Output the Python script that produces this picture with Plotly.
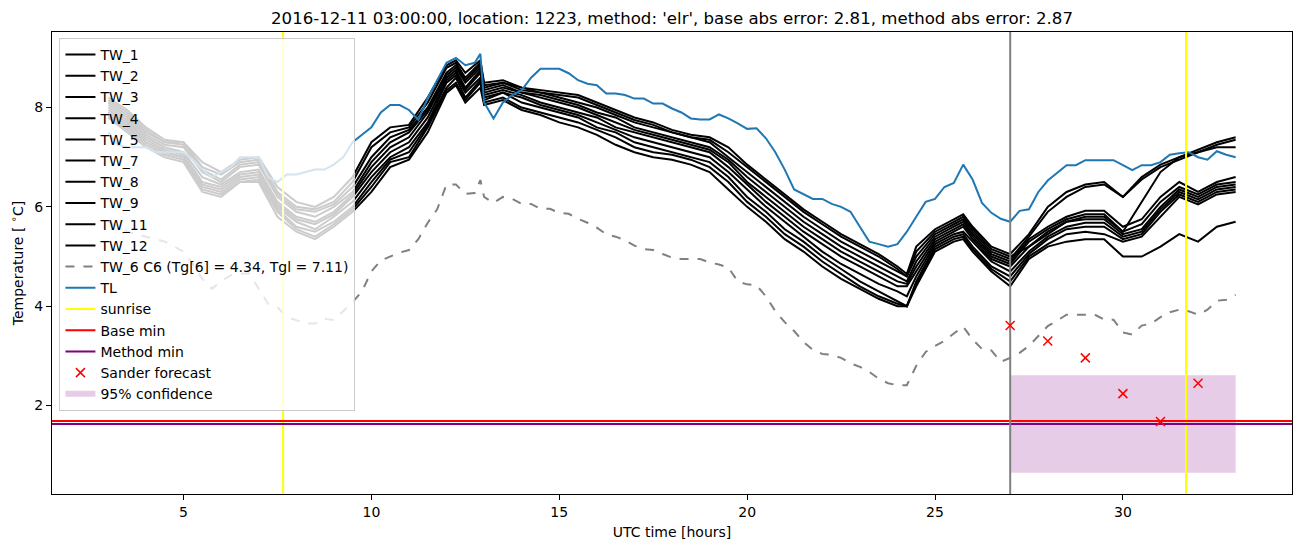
import plotly.graph_objects as go

# time axis (UTC hours since start of the day)
hours = [3.0, 3.25, 3.5, 3.75, 4.0, 4.25, 4.5, 4.75, 5.0, 5.25, 5.5, 5.75, 6.0, 6.25, 6.5, 6.75,
         7.0, 7.25, 7.5, 7.75, 8.0, 8.25, 8.5, 8.75, 9.0, 9.25, 9.5, 9.75, 10.0, 10.25, 10.5, 10.75,
         11.0, 11.25, 11.5, 11.75, 12.0, 12.25, 12.5, 12.75, 12.9, 13.0, 13.25, 13.5, 13.75, 14.0,
         14.25, 14.5, 14.75, 15.0, 15.25, 15.5, 15.75, 16.0, 16.25, 16.5, 16.75, 17.0, 17.25, 17.5,
         17.75, 18.0, 18.25, 18.5, 18.75, 19.0, 19.25, 19.5, 19.75, 20.0, 20.25, 20.5, 20.75, 21.0,
         21.25, 21.5, 21.75, 22.0, 22.25, 22.5, 22.75, 23.0, 23.25, 23.5, 23.75, 24.0, 24.25, 24.5,
         24.75, 25.0, 25.25, 25.5, 25.75, 26.0, 26.25, 26.5, 26.75, 27.0, 27.25, 27.5, 27.75, 28.0,
         28.25, 28.5, 28.75, 29.0, 29.25, 29.5, 29.75, 30.0, 30.25, 30.5, 30.75, 31.0, 31.25, 31.5,
         31.75, 32.0, 32.25, 32.5, 32.75, 33.0]

tl = [7.5, 7.25, 7.2, 7.2, 7.2, 7.1, 7.1, 7.1, 7.1, 6.95, 6.75, 6.6, 6.7, 6.8, 7.0, 7.0,
      7.0, 6.6, 6.5, 6.65, 6.65, 6.7, 6.75, 6.75, 6.85, 7.0, 7.3, 7.45, 7.6, 7.9, 8.05, 8.05,
      7.95, 7.75, 8.2, 8.55, 8.9, 9.0, 8.85, 8.9, 9.08, 8.1, 7.78, 8.1, 8.25, 8.35,
      8.6, 8.78, 8.78, 8.78, 8.69, 8.55, 8.48, 8.45, 8.28, 8.28, 8.25, 8.18, 8.18, 8.08,
      8.08, 7.98, 7.9, 7.78, 7.76, 7.76, 7.86, 7.78, 7.68, 7.57, 7.58, 7.38, 7.1, 6.75,
      6.35, 6.26, 6.16, 6.16, 6.06, 6.0, 5.9, 5.6, 5.3, 5.25, 5.2, 5.25, 5.5, 5.8,
      6.1, 6.16, 6.4, 6.48, 6.85, 6.55, 6.08, 5.88, 5.76, 5.7, 5.92, 5.95, 6.3, 6.53,
      6.68, 6.84, 6.84, 6.94, 6.94, 6.94, 6.94, 6.84, 6.74, 6.84, 6.84, 6.9, 7.05, 7.08,
      7.1, 7.0, 6.95, 7.12, 7.05, 7.0]

tw6 = [5.7, 5.6, 5.5, 5.45, 5.4, 5.35, 5.3, 5.2, 5.1, 4.85, 4.55, 4.35, 4.5, 4.62, 4.65, 4.66,
       4.35, 4.05, 3.98, 3.78, 3.72, 3.65, 3.65, 3.75, 3.72, 3.9, 4.08, 4.3, 4.7, 4.92, 5.0, 5.08,
       5.13, 5.35, 5.68, 5.95, 6.45, 6.45, 6.26, 6.28, 6.54, 6.2, 6.08, 6.2, 6.16, 6.06,
       6.06, 5.96, 5.96, 5.88, 5.86, 5.76, 5.68, 5.58, 5.45, 5.4, 5.33, 5.22, 5.15, 5.13,
       5.05, 4.98, 4.95, 4.95, 4.95, 4.88, 4.84, 4.78, 4.5, 4.44, 4.42, 4.2, 3.9, 3.68,
       3.5, 3.28, 3.12, 3.04, 3.02, 2.96, 2.85, 2.78, 2.68, 2.54, 2.45, 2.41, 2.41, 2.8,
       3.08, 3.2, 3.3, 3.45, 3.59, 3.33, 3.14, 3.11, 2.88, 2.96, 3.06, 3.2, 3.4, 3.6,
       3.71, 3.83, 3.83, 3.83, 3.83, 3.73, 3.73, 3.47, 3.43, 3.61, 3.65, 3.78, 3.88, 3.93,
       3.9, 3.83, 3.93, 4.11, 4.13, 4.23]

# well sensors, sampled every half hour (plus the peak times)
tw_hours = [3.0, 3.5, 4.0, 4.5, 5.0, 5.5, 6.0, 6.5, 7.0, 7.5, 8.0, 8.5, 9.0, 9.5, 10.0, 10.5,
            11.0, 11.5, 12.0, 12.25, 12.5, 12.9, 13.0, 13.5, 14.0, 14.5, 15.0, 15.5, 16.0, 16.5,
            17.0, 17.5, 18.0, 18.5, 19.0, 19.5, 20.0, 20.5, 21.0, 21.5, 22.0, 22.5, 23.0, 23.5,
            24.0, 24.25, 24.5, 25.0, 25.5, 25.75, 26.0, 26.5, 27.0, 27.5, 28.0, 28.5, 29.0, 29.5,
            30.0, 30.5, 31.0, 31.5, 32.0, 32.5, 33.0]

tw_1 = [8.2, 7.95, 7.6, 7.35, 7.3, 6.9, 6.7, 6.95, 7.0, 6.4, 6.1, 6.0, 6.2, 6.6, 7.3, 7.6,
        7.65, 8.2, 8.85, 8.95, 8.7, 8.95, 8.5, 8.55, 8.4, 8.35, 8.3, 8.25, 8.1, 7.95,
        7.8, 7.7, 7.55, 7.45, 7.4, 7.2, 6.85, 6.55, 6.25, 5.95, 5.7, 5.45, 5.25, 5.05,
        4.8, 4.65, 5.2, 5.55, 5.75, 5.85, 5.6, 5.2, 5.05, 5.45, 6.0, 6.3, 6.45, 6.5,
        6.2, 6.6, 6.85, 7.0, 7.15, 7.3, 7.4]
tw_2 = [8.15, 7.9, 7.55, 7.3, 7.3, 6.8, 6.65, 6.9, 6.95, 6.3, 6.0, 5.95, 6.1, 6.5, 7.2, 7.5,
        7.6, 8.1, 8.8, 8.9, 8.6, 8.9, 8.45, 8.5, 8.4, 8.3, 8.25, 8.2, 8.05, 7.9,
        7.75, 7.65, 7.5, 7.4, 7.35, 7.1, 6.8, 6.5, 6.2, 5.9, 5.65, 5.4, 5.2, 5.0,
        4.75, 4.6, 5.1, 5.5, 5.7, 5.8, 5.55, 5.15, 5.0, 5.2, 5.5, 5.7, 5.8, 5.8,
        5.5, 6.1, 6.7, 7.0, 7.1, 7.25, 7.35]
tw_3 = [8.1, 7.85, 7.5, 7.3, 7.25, 6.75, 6.55, 6.85, 6.9, 6.25, 5.95, 5.9, 6.05, 6.4, 7.0, 7.4,
        7.55, 8.0, 8.7, 8.85, 8.55, 8.85, 8.4, 8.5, 8.35, 8.3, 8.2, 8.1, 8.0, 7.85,
        7.7, 7.6, 7.5, 7.4, 7.3, 7.0, 6.7, 6.4, 6.1, 5.8, 5.55, 5.3, 5.1, 4.9,
        4.7, 4.6, 5.0, 5.45, 5.65, 5.75, 5.5, 5.1, 4.95, 5.4, 5.9, 6.2, 6.4, 6.45,
        6.2, 6.55, 6.8, 6.95, 7.1, 7.2, 7.2]
tw_4 = [8.05, 7.8, 7.45, 7.25, 7.2, 6.7, 6.5, 6.8, 6.85, 6.2, 5.9, 5.8, 6.0, 6.3, 6.9, 7.3,
        7.5, 7.95, 8.65, 8.8, 8.5, 8.8, 8.35, 8.45, 8.3, 8.25, 8.15, 8.05, 7.9, 7.8,
        7.6, 7.5, 7.4, 7.3, 7.2, 6.95, 6.6, 6.3, 6.0, 5.7, 5.45, 5.2, 5.0, 4.8,
        4.6, 4.5, 4.9, 5.4, 5.6, 5.7, 5.45, 5.05, 4.9, 5.35, 5.6, 5.8, 5.92, 5.92,
        5.6, 5.75, 6.2, 6.5, 6.3, 6.5, 6.6]
tw_5 = [8.0, 7.75, 7.4, 7.2, 7.1, 6.6, 6.45, 6.7, 6.75, 6.1, 5.8, 5.7, 5.9, 6.25, 6.8, 7.2,
        7.4, 7.9, 8.6, 8.75, 8.4, 8.75, 8.3, 8.4, 8.3, 8.2, 8.1, 8.0, 7.85, 7.7,
        7.55, 7.45, 7.35, 7.25, 7.15, 6.9, 6.5, 6.2, 5.9, 5.6, 5.35, 5.1, 4.9, 4.7,
        4.5, 4.45, 4.8, 5.35, 5.55, 5.65, 5.4, 5.0, 4.85, 5.3, 5.55, 5.75, 5.85, 5.85,
        5.5, 5.65, 6.1, 6.4, 6.25, 6.45, 6.5]
tw_7 = [7.95, 7.7, 7.35, 7.15, 7.05, 6.5, 6.4, 6.65, 6.7, 6.05, 5.75, 5.65, 5.85, 6.2, 6.7, 7.1,
        7.3, 7.8, 8.55, 8.7, 8.35, 8.7, 8.25, 8.35, 8.25, 8.1, 8.0, 7.9, 7.8, 7.6,
        7.5, 7.4, 7.3, 7.2, 7.1, 6.8, 6.45, 6.1, 5.8, 5.5, 5.25, 5.0, 4.8, 4.6,
        4.4, 4.4, 4.7, 5.3, 5.5, 5.6, 5.35, 4.95, 4.8, 5.2, 5.45, 5.7, 5.75, 5.75,
        5.45, 5.55, 6.0, 6.35, 6.2, 6.4, 6.45]
tw_8 = [7.9, 7.65, 7.3, 7.1, 7.0, 6.45, 6.35, 6.6, 6.65, 6.0, 5.7, 5.55, 5.8, 6.1, 6.6, 7.0,
        7.2, 7.7, 8.5, 8.65, 8.3, 8.6, 8.2, 8.3, 8.2, 8.05, 7.95, 7.85, 7.7, 7.55,
        7.4, 7.3, 7.2, 7.1, 7.0, 6.7, 6.35, 6.0, 5.7, 5.4, 5.1, 4.85, 4.65, 4.45,
        4.3, 4.2, 4.6, 5.25, 5.45, 5.5, 5.3, 4.9, 4.7, 5.1, 5.4, 5.6, 5.68, 5.68,
        5.4, 5.5, 5.95, 6.3, 6.15, 6.35, 6.4]
tw_9 = [7.85, 7.6, 7.3, 7.1, 7.0, 6.4, 6.3, 6.55, 6.6, 5.95, 5.6, 5.5, 5.7, 6.0, 6.5, 6.95,
        7.1, 7.65, 8.4, 8.6, 8.2, 8.55, 8.15, 8.3, 8.1, 8.0, 7.9, 7.8, 7.6, 7.5,
        7.3, 7.2, 7.1, 7.0, 6.9, 6.6, 6.2, 5.9, 5.55, 5.3, 5.0, 4.75, 4.5, 4.3,
        4.1, 4.0, 4.5, 5.2, 5.4, 5.45, 5.2, 4.8, 4.6, 5.05, 5.35, 5.55, 5.6, 5.6,
        5.35, 5.45, 5.9, 6.25, 6.1, 6.3, 6.35]
tw_11 = [7.8, 7.55, 7.25, 7.05, 6.95, 6.35, 6.25, 6.5, 6.55, 5.9, 5.55, 5.4, 5.65, 5.95, 6.4, 6.9,
         7.0, 7.6, 8.35, 8.5, 8.15, 8.5, 8.1, 8.2, 8.0, 7.9, 7.8, 7.7, 7.55, 7.4,
         7.2, 7.1, 7.05, 6.95, 6.8, 6.5, 6.1, 5.8, 5.45, 5.2, 4.9, 4.65, 4.4, 4.2,
         4.05, 4.0, 4.45, 5.15, 5.35, 5.4, 5.15, 4.75, 4.5, 5.0, 5.25, 5.45, 5.5, 5.45,
         5.3, 5.4, 5.8, 6.2, 6.05, 6.25, 6.3]
tw_12 = [7.8, 7.5, 7.2, 7.0, 6.9, 6.3, 6.2, 6.5, 6.5, 5.8, 5.5, 5.35, 5.6, 5.9, 6.3, 6.8,
         6.95, 7.5, 8.3, 8.45, 8.1, 8.4, 8.05, 8.15, 7.95, 7.85, 7.7, 7.6, 7.45, 7.25,
         7.1, 7.0, 6.95, 6.85, 6.7, 6.35, 6.0, 5.7, 5.35, 5.1, 4.8, 4.55, 4.35, 4.15,
         4.0, 4.0, 4.4, 5.1, 5.3, 5.35, 5.1, 4.7, 4.4, 4.95, 5.2, 5.3, 5.35, 5.35,
         5.0, 5.0, 5.2, 5.45, 5.3, 5.6, 5.7]

tw_names = ['TW_1', 'TW_2', 'TW_3', 'TW_4', 'TW_5', 'TW_7', 'TW_8', 'TW_9', 'TW_11', 'TW_12']
tw_series = [tw_1, tw_2, tw_3, tw_4, tw_5, tw_7, tw_8, tw_9, tw_11, tw_12]

sunrise_hours = [7.65, 31.68]
forecast_start = 27.0
base_min = 1.69
method_min = 1.63

sander_hours = [27, 28, 29, 30, 31, 32]
sander_values = [3.61, 3.30, 2.96, 2.24, 1.68, 2.45]

conf_hours = [27.0, 33.0]
conf_low = 0.65
conf_high = 2.61

x_range = [1.5, 34.5]
y_range = [0.22, 9.52]

title = ("2016-12-11 03:00:00, location: 1223, method: 'elr', "
         "base abs error: 2.81, method abs error: 2.87")

fig = go.Figure()

# confidence band first so it sits underneath, listed last in the legend
fig.add_trace(go.Scatter(
    x=[conf_hours[0], conf_hours[1], conf_hours[1], conf_hours[0], conf_hours[0]],
    y=[conf_low, conf_low, conf_high, conf_high, conf_low],
    fill='toself', fillcolor='rgba(128,0,128,0.2)', mode='none',
    name='95% confidence', legendrank=1017, hoverinfo='skip'
))

for rank, (name, vals) in enumerate(zip(tw_names, tw_series)):
    fig.add_trace(go.Scatter(
        x=tw_hours, y=vals, mode='lines', name=name, legendrank=1000 + rank,
        line=dict(color='black', width=2)
    ))

fig.add_trace(go.Scatter(
    x=hours, y=tw6, mode='lines', name='TW_6 C6 (Tg[6] = 4.34, Tgl = 7.11)',
    legendrank=1010, line=dict(color='gray', width=2, dash='dash')
))

fig.add_trace(go.Scatter(
    x=hours, y=tl, mode='lines', name='TL', legendrank=1011,
    line=dict(color='#1f77b4', width=2)
))

# sunrise markers span the full axis height
sx, sy = [], []
for h in sunrise_hours:
    sx += [h, h, None]
    sy += [y_range[0], y_range[1], None]
fig.add_trace(go.Scatter(
    x=sx, y=sy, mode='lines', name='sunrise', legendrank=1012,
    line=dict(color='yellow', width=2)
))

fig.add_trace(go.Scatter(
    x=x_range, y=[base_min, base_min], mode='lines', name='Base min', legendrank=1013,
    line=dict(color='red', width=2)
))
fig.add_trace(go.Scatter(
    x=x_range, y=[method_min, method_min], mode='lines', name='Method min', legendrank=1014,
    line=dict(color='purple', width=2)
))

fig.add_trace(go.Scatter(
    x=[forecast_start, forecast_start], y=y_range, mode='lines', showlegend=False,
    line=dict(color='gray', width=2)
))

fig.add_trace(go.Scatter(
    x=sander_hours, y=sander_values, mode='markers', name='Sander forecast', legendrank=1015,
    marker=dict(symbol='x-thin', size=9, color='red', line=dict(color='red', width=1.5))
))

axis_style = dict(
    showgrid=False, zeroline=False, showline=True, linecolor='black', linewidth=1,
    mirror=True, ticks='outside', ticklen=5, tickcolor='black', automargin=False,
    tickfont=dict(size=14, color='black')
)

# the page body adds an 8px margin, so the figure is sized to fit inside it
fig.update_layout(
    width=1294,
    height=539,
    margin=dict(l=44, r=10, t=24, b=53),
    plot_bgcolor='white',
    paper_bgcolor='white',
    font=dict(family='DejaVu Sans', color='black', size=14),
    title=dict(text=title, x=0.5, xref='paper', xanchor='center',
               y=1 - 10 / 539, yref='container', yanchor='middle',
               font=dict(size=16.6, color='black'), automargin=False),
    xaxis=dict(range=x_range, tickvals=[5, 10, 15, 20, 25, 30],
               title=dict(text='UTC time [hours]', font=dict(size=14), standoff=8),
               **axis_style),
    yaxis=dict(range=y_range, tickvals=[2, 4, 6, 8],
               title=dict(text='Temperature [ <sup>∘</sup>C]', font=dict(size=14), standoff=8),
               **axis_style),
    showlegend=True,
    legend=dict(
        x=0.006, y=0.987, xanchor='left', yanchor='top',
        bgcolor='rgba(255,255,255,0.8)', bordercolor='#cccccc', borderwidth=1,
        font=dict(size=14, color='black'), traceorder='normal'
    )
)

fig.write_html("out.html")
